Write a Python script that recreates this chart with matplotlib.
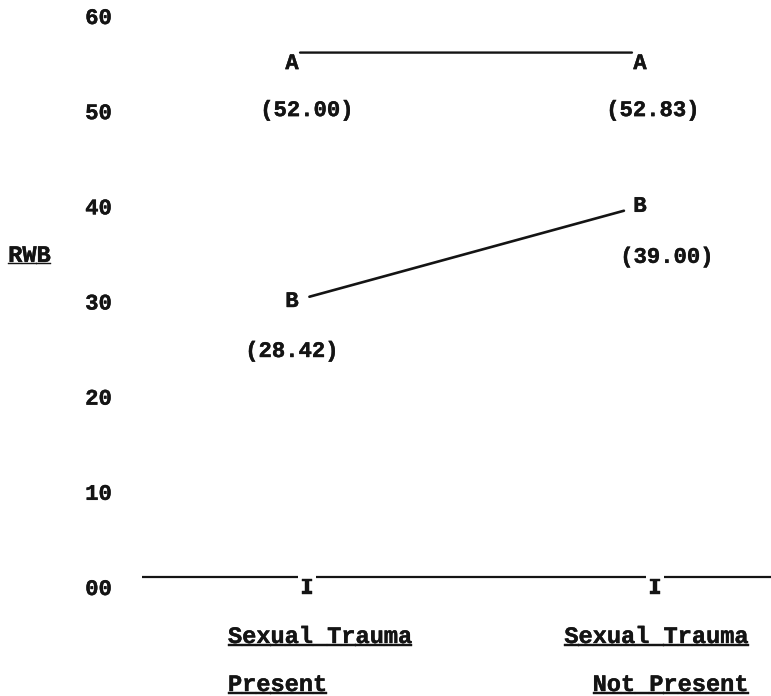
import matplotlib
matplotlib.use("Agg")
import matplotlib.pyplot as plt
import matplotlib.patheffects as pe
from matplotlib.transforms import offset_copy

# ---------------- data ----------------
category_line1 = ["Sexual Trauma", "Sexual Trauma"]
category_line2 = ["Present", "Not Present"]
group_names = ["A", "B"]
means_A = [52.00, 52.83]          # printed group means
means_B = [28.42, 39.00]
plotted_A = [55, 55]              # heights at which the letters are drawn on the RWB scale
plotted_B = [30, 40]
ytick_values = [0, 10, 20, 30, 40, 50, 60]
ytick_labels = ["00", "10", "20", "30", "40", "50", "60"]
y_label = "RWB"

# ---------------- style ----------------
INK = "#141414"
FAM = ["Liberation Mono", "DejaVu Sans Mono"]
THICK = [pe.withStroke(linewidth=0.3, foreground=INK)]
NUM = dict(family=FAM, weight="bold", size=16, color=INK, path_effects=THICK)
CAT = dict(family=FAM, weight="bold", size=17, color=INK, path_effects=THICK)

fig = plt.figure(figsize=(7.71, 6.96), dpi=100)
ax = fig.add_axes([130 / 771, 109 / 696, 641 / 771, 571 / 696])
ax.set_xlim(-162 / 348, 479 / 348)
ax.set_ylim(0, 60)
for s in ax.spines.values():
    s.set_visible(False)
ax.set_xticks([])
ax.set_yticks(ytick_values, ytick_labels)
ax.tick_params(axis="y", length=0, pad=13)
for lab in ax.get_yticklabels():
    lab.set_family(FAM)
    lab.set_weight("bold")
    lab.set_size(16)
    lab.set_color(INK)
    lab.set_path_effects(THICK)

# y label (underlined, typewriter style)
for s in (y_label, "_" * len(y_label)):
    ax.annotate(s, xy=(-0.19, 35), xycoords=("axes fraction", "data"),
                ha="left", va="baseline", xytext=(0, -8), textcoords="offset pixels",
                annotation_clip=False, **CAT)

xs = list(range(len(category_line1)))

# letters
for x, y in zip(xs, plotted_A):
    ax.text(x, y, group_names[0], ha="center", va="center", **NUM)
for x, y in zip(xs, plotted_B):
    ax.text(x, y, group_names[1], ha="center", va="center", **NUM)

# connecting lines
tr_top = offset_copy(ax.transData, fig=fig, x=0, y=11, units="dots")
ax.annotate("", xy=(xs[1], plotted_A[1]), xycoords=tr_top,
            xytext=(xs[0], plotted_A[0]), textcoords=tr_top,
            arrowprops=dict(arrowstyle="-", shrinkA=5.8, shrinkB=5.8, lw=1.7, color=INK))
ax.annotate("", xy=(xs[1], plotted_B[1]), xytext=(xs[0], plotted_B[0]),
            arrowprops=dict(arrowstyle="-", shrinkA=13, shrinkB=12, lw=1.9, color=INK))

# mean labels
a_off = [(15, -47), (13, -47)]
b_off = [(0, -50), (27, -51)]
for x, y, m, off in zip(xs, plotted_A, means_A, a_off):
    ax.annotate(f"({m:.2f})", xy=(x, y), xytext=off, textcoords="offset pixels",
                ha="center", va="center", **NUM)
for x, y, m, off in zip(xs, plotted_B, means_B, b_off):
    ax.annotate(f"({m:.2f})", xy=(x, y), xytext=off, textcoords="offset pixels",
                ha="center", va="center", **NUM)

# baseline with I marks
tr_base = offset_copy(ax.transData, fig=fig, x=0, y=10, units="dots")
ax.plot([-150 / 348, 479 / 348], [0, 0], transform=tr_base, color=INK, lw=1.6,
        solid_capstyle="butt", clip_on=False)
for x in xs:
    ax.annotate("I", xy=(x, 0), xytext=(15, -1), textcoords="offset pixels",
                ha="center", va="center", zorder=5,
                bbox=dict(boxstyle="square,pad=0.1", fc="white", ec="none"), **NUM)

# category labels (underlined)
cat_cfg = [("left", -64), ("right", 108)]
for x, l1, l2, (ha, dx) in zip(xs, category_line1, category_line2, cat_cfg):
    for txt, dy in ((l1, -56), (l2, -104)):
        for s in (txt, "_" * len(txt)):
            ax.annotate(s, xy=(x, 0), xytext=(dx, dy), textcoords="offset pixels",
                        ha=ha, va="baseline", annotation_clip=False, **CAT)

fig.savefig("out.png", dpi=100)
